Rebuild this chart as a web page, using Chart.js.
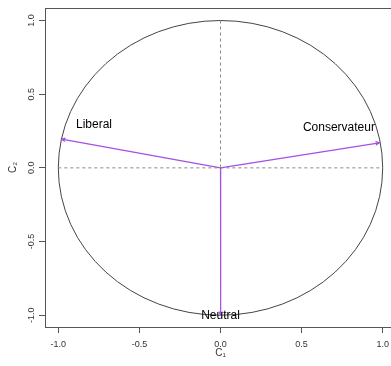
<!DOCTYPE html>
<html>
<head>
<meta charset="utf-8">
<script src="https://cdn.jsdelivr.net/npm/chart.js@4/dist/chart.umd.min.js"></script>
<style>
html,body{margin:0;padding:0;background:#fff;overflow:hidden;}
canvas{display:block;}
</style>
</head>
<body>
<canvas id="c" width="396" height="366"></canvas>
<script>
// Data
const variables = ['Liberal', 'Conservateur', 'Neutral'];
const c1 = [-0.979, 0.979, 0.001];
const c2 = [0.195, 0.170, -0.999];
const labelC1 = [-0.78, 0.73, 0.0];
const labelC2 = [0.29, 0.275, -1.0];
const xTicks = [-1.0, -0.5, 0.0, 0.5, 1.0];
const yTicks = [-1.0, -0.5, 0.0, 0.5, 1.0];

const arrowColor = '#A64FE2';

const datasets = variables.map((v, i) => ({
  label: v,
  data: [{x: 0, y: 0}, {x: c1[i], y: c2[i]}],
  showLine: true,
  borderColor: arrowColor,
  borderWidth: 1.2,
  pointRadius: 0,
  fill: false
}));

const decor = {
  id: 'decor',
  beforeDatasetsDraw(chart) {
    const {ctx, scales: {x, y}} = chart;
    const cx = x.getPixelForValue(0), cy = y.getPixelForValue(0);
    const rx = x.getPixelForValue(1) - cx, ry = cy - y.getPixelForValue(1);
    ctx.save();
    ctx.strokeStyle = '#444';
    ctx.lineWidth = 1;
    ctx.beginPath();
    ctx.ellipse(cx, cy, rx, ry, 0, 0, Math.PI * 2);
    ctx.stroke();
    ctx.restore();
  },
  afterDatasetsDraw(chart) {
    const {ctx, scales: {x, y}, chartArea} = chart;
    const cx = x.getPixelForValue(0), cy = y.getPixelForValue(0);
    ctx.save();
    ctx.strokeStyle = '#888';
    ctx.lineWidth = 1;
    ctx.setLineDash([3, 3]);
    ctx.beginPath();
    ctx.moveTo(x.getPixelForValue(-1), cy);
    ctx.lineTo(x.getPixelForValue(1), cy);
    ctx.moveTo(cx, y.getPixelForValue(1));
    ctx.lineTo(cx, y.getPixelForValue(0) - 1);
    ctx.stroke();
    ctx.setLineDash([]);
    ctx.strokeStyle = arrowColor;
    ctx.lineWidth = 1.2;
    for (let i = 0; i < variables.length; i++) {
      const x0 = x.getPixelForValue(0), y0 = y.getPixelForValue(0);
      const x1 = x.getPixelForValue(c1[i]), y1 = y.getPixelForValue(c2[i]);
      const a = Math.atan2(y1 - y0, x1 - x0);
      const L = 4, w = Math.PI / 7;
      ctx.beginPath();
      ctx.moveTo(x1 - L * Math.cos(a - w), y1 - L * Math.sin(a - w));
      ctx.lineTo(x1, y1);
      ctx.lineTo(x1 - L * Math.cos(a + w), y1 - L * Math.sin(a + w));
      ctx.stroke();
    }
    ctx.fillStyle = '#000';
    ctx.font = '12px "Liberation Sans", Arial, sans-serif';
    ctx.textAlign = 'center';
    ctx.textBaseline = 'middle';
    for (let i = 0; i < variables.length; i++) {
      ctx.fillText(variables[i], x.getPixelForValue(labelC1[i]), y.getPixelForValue(labelC2[i]));
    }
    ctx.strokeStyle = '#555';
    ctx.lineWidth = 1;
    ctx.strokeRect(chartArea.left + 0.5, chartArea.top + 0.5, chartArea.right - chartArea.left, chartArea.bottom - chartArea.top);
    ctx.restore();
  }
};

const tickFont = {family: '"Liberation Sans", Arial, sans-serif', size: 9};

new Chart(document.getElementById('c'), {
  type: 'scatter',
  data: {datasets},
  options: {
    responsive: false,
    animation: false,
    devicePixelRatio: 1,
    layout: {padding: {top: 8, right: 0, left: 0, bottom: 0}},
    plugins: {legend: {display: false}, tooltip: {enabled: false}},
    scales: {
      x: {
        type: 'linear',
        min: -1.082, max: 1.082,
        afterBuildTicks: s => { s.ticks = xTicks.map(v => ({value: v})); },
        afterFit: s => { s.height = 39; },
        border: {display: false},
        grid: {display: true, drawOnChartArea: false, drawTicks: true, tickLength: 6, color: '#555'},
        ticks: {font: tickFont, color: '#333', padding: 6, maxRotation: 0, callback: v => Number(v).toFixed(1)},
        title: {display: true, text: 'C₁', font: {family: '"Liberation Sans", Arial, sans-serif', size: 10}, color: '#333', padding: {top: 0, bottom: 7}}
      },
      y: {
        type: 'linear',
        min: -1.08, max: 1.085,
        afterBuildTicks: s => { s.ticks = yTicks.map(v => ({value: v})); },
        afterFit: s => { s.width = 45; },
        border: {display: false},
        grid: {display: true, drawOnChartArea: false, drawTicks: true, tickLength: 6, color: '#555'},
        ticks: {font: tickFont, color: '#333', padding: 0, minRotation: 90, maxRotation: 90, crossAlign: 'center', callback: v => Number(v).toFixed(1)},
        title: {display: true, text: 'C₂', font: {family: '"Liberation Sans", Arial, sans-serif', size: 10}, color: '#333', padding: {top: 7, bottom: 0}}
      }
    }
  },
  plugins: [decor]
});
</script>
</body>
</html>
